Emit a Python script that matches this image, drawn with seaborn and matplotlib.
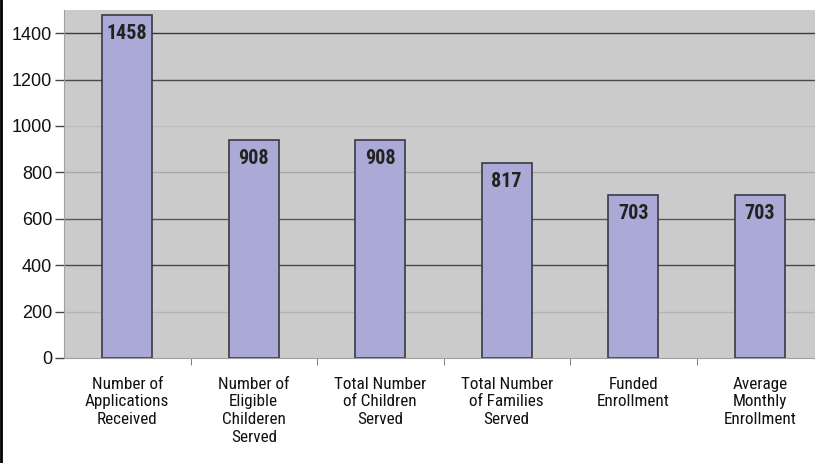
import seaborn as sns
import matplotlib.pyplot as plt
import matplotlib.lines as mlines
from matplotlib import font_manager
import pandas as pd

# categories and values
categories = ["Number of\nApplications\nReceived",
              "Number of\nEligible\nChilderen\nServed",
              "Total Number\nof Children\nServed",
              "Total Number\nof Families\nServed",
              "Funded\nEnrollment",
              "Average\nMonthly\nEnrollment"]
bar_heights = [1478, 940, 940, 842, 703, 703]   # drawn height of each bar
bar_labels = ["1458", "908", "908", "817", "703", "703"]  # printed values
y_ticks = [0, 200, 400, 600, 800, 1000, 1200, 1400]

df = pd.DataFrame({"cat": categories, "val": bar_heights})

# pick narrow fonts that are installed
fonts = font_manager.fontManager.ttflist
names = {f.name for f in fonts}
bold_names = {f.name for f in fonts if f.weight in (700, "bold") and f.style == "normal"}


def pick(prefs, pool, default):
    for p in prefs:
        if p in pool:
            return p
    return default


cat_font = pick(["Liberation Sans Narrow", "Arial Narrow", "Roboto Condensed",
                 "Archivo Narrow", "Asap Condensed", "Barlow Semi Condensed"],
                names, "Liberation Sans")
lab_font = pick(["Liberation Sans Narrow", "Arial Narrow", "Roboto Condensed",
                 "Barlow Semi Condensed", "Asap Condensed", "Barlow Condensed"],
                bold_names, "Liberation Sans")

sns.set_style("white")
plt.rcParams["font.family"] = ["Liberation Sans", "DejaVu Sans"]

fig = plt.figure(figsize=(8.15, 4.63), dpi=100)
ax = fig.add_axes([64 / 815, 105 / 463, 759 / 815, 348 / 463])
ax.set_facecolor("#cbcbcb")

# gridlines (some look lighter in the scan)
grid_cols = {200: "#b4b4b4", 400: "#4a4a4a", 600: "#5a5a5a", 800: "#a8a8a8",
             1000: "#bdbdbd", 1200: "#4a4a4a", 1400: "#3a3a3a"}
for yv, c in grid_cols.items():
    ax.axhline(yv, color=c, lw=1.0, zorder=0)

sns.barplot(data=df, x="cat", y="val", color="#aba9d5", saturation=1,
            width=0.395, edgecolor="#3a3a48", linewidth=1.2, ax=ax, zorder=2)

for i, (h, lab) in enumerate(zip(bar_heights, bar_labels)):
    ax.annotate(lab, (i, h), xytext=(0, -6.5), textcoords="offset points",
                ha="center", va="top", fontsize=14.5, fontweight="bold",
                color="#222222", zorder=3, family=lab_font)

ax.set_ylim(0, 1500)
ax.set_xlim(-0.5, 5.5)
ax.set_yticks(y_ticks)
ax.set_yticklabels([str(t) for t in y_ticks], fontsize=13, color="#111111")
ax.tick_params(axis="y", left=True, length=6.5, width=1, color="#444444", pad=2)
ax.set_xticks(range(len(categories)))
ax.set_xticklabels(categories, fontsize=12.3, color="#111111",
                   linespacing=1.22, family=cat_font)
ax.tick_params(axis="x", which="major", bottom=False, length=0, pad=13.5)
ax.set_xticks([0.5, 1.5, 2.5, 3.5, 4.5], minor=True)
ax.tick_params(axis="x", which="minor", bottom=True, length=5, color="#666666")
ax.set_xlabel("")
ax.set_ylabel("")

for side in ["top", "right"]:
    ax.spines[side].set_visible(False)
ax.spines["left"].set_color("#a0a0a0")
ax.spines["bottom"].set_color("#a0a0a0")

# thin black border at the left edge of the image
fig.add_artist(mlines.Line2D([1 / 815, 1 / 815], [0, 1], color="black", lw=2,
                             transform=fig.transFigure))

fig.savefig("out.png", dpi=100)
